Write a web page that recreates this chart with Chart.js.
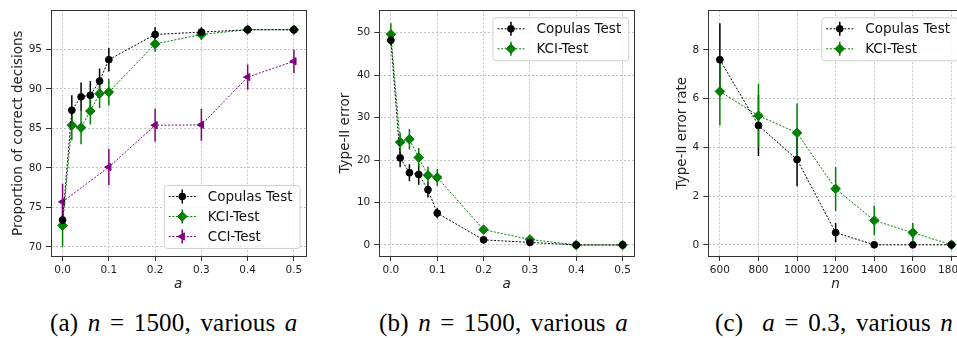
<!DOCTYPE html>
<html>
<head>
<meta charset="utf-8">
<script src="https://cdn.jsdelivr.net/npm/chart.js@4.4.0/dist/chart.umd.min.js"></script>
<style>
  body { margin: 0; background: #fff; }
  #page { position: relative; width: 957px; height: 338px; overflow: hidden; background: #fff; }
  canvas { position: absolute; top: 0; }
  .cap { position: absolute; top: 309px; line-height: 28px; font-family: "Liberation Serif", serif; font-size: 25px; letter-spacing: 0.2px; word-spacing: 3px; white-space: pre; color: #000; }
</style>
</head>
<body>
<div id="page">
  <canvas id="c1" width="320" height="300" style="left:0px"></canvas>
  <canvas id="c2" width="320" height="300" style="left:320px"></canvas>
  <canvas id="c3" width="340" height="300" style="left:640px"></canvas>
  <div class="cap" style="left:50px">(a) <i>n</i> = 1500, various <i>a</i></div>
  <div class="cap" style="left:379px">(b) <i>n</i> = 1500, various <i>a</i></div>
  <div class="cap" style="left:715px">(c)  <i>a</i> = 0.3, various <i>n</i></div>
</div>
<script>
  // valores
  const aVals = [0, 0.02, 0.04, 0.06, 0.08, 0.1, 0.2, 0.3, 0.4, 0.5];
  const aValsCCI = [0, 0.1, 0.2, 0.3, 0.4, 0.5];
  const nVals = [600, 800, 1000, 1200, 1400, 1600, 1800];

  const aTicks = [0, 0.1, 0.2, 0.3, 0.4, 0.5];
  const nTicks = [600, 800, 1000, 1200, 1400, 1600, 1800];
  const correctTicks = [70, 75, 80, 85, 90, 95];
  const errorTicks = [0, 10, 20, 30, 40, 50];
  const rateTicks = [0, 2, 4, 6, 8];

  // (a) proporção de decisões corretas
  const copulasCorrect = [73.4, 87.3, 89.0, 89.2, 91.0, 93.7, 96.9, 97.2, 97.5, 97.5];
  const copulasCorrectErr = [0.6, 1.9, 1.8, 1.8, 1.6, 1.5, 0.9, 0.6, 0.5, 0.5];
  const kciCorrect = [72.7, 85.4, 85.1, 87.2, 89.4, 89.6, 95.7, 96.9, 97.5, 97.5];
  const kciCorrectErr = [2.7, 1.9, 2.1, 1.7, 1.8, 1.7, 1.0, 0.7, 0.5, 0.5];
  const cciCorrect = [75.7, 80.1, 85.4, 85.45, 91.5, 93.5];
  const cciCorrectErr = [2.3, 2.3, 2.1, 2.0, 1.6, 1.5];

  // (b) erro tipo II
  const copulasType2 = [48.2, 20.5, 17.0, 16.6, 13.0, 7.5, 1.2, 0.6, 0, 0];
  const copulasType2Err = [1.2, 2.2, 2.0, 2.4, 1.8, 1.2, 0.4, 0.3, 0, 0];
  const kciType2 = [49.6, 24.2, 24.9, 20.6, 16.4, 15.9, 3.6, 1.3, 0, 0];
  const kciType2Err = [2.6, 2.3, 2.4, 2.2, 2.0, 2.0, 0.8, 0.5, 0, 0];

  // (c) taxa de erro tipo II
  const copulasRate = [7.6, 4.9, 3.5, 0.5, 0, 0, 0];
  const copulasRateErr = [1.5, 1.25, 1.1, 0.4, 0, 0, 0];
  const kciRate = [6.3, 5.3, 4.6, 2.3, 1.0, 0.5, 0];
  const kciRateErr = [1.4, 1.3, 1.2, 0.9, 0.6, 0.4, 0];

  const FAMILY = '"DejaVu Sans", sans-serif';
  const BLACK = '#000000', GREEN = '#008000', PURPLE = '#800080';

  function serie(label, xs, ys, errs, color, style, radius, rotation) {
    return {
      label: label,
      data: xs.map((x, i) => ({ x: x, y: ys[i] })),
      errors: errs,
      marker: style,
      borderColor: color,
      backgroundColor: color,
      borderWidth: 1,
      borderDash: [2, 1.6],
      pointStyle: style,
      pointRotation: rotation || 0,
      pointRadius: radius,
      pointBorderWidth: 1,
      pointBackgroundColor: color,
      pointBorderColor: color,
      tension: 0
    };
  }

  // barras de erro verticais, desenhadas pela escala y do próprio gráfico
  const errorBars = {
    id: 'errorBars',
    beforeDatasetsDraw(chart) {
      const ctx = chart.ctx;
      const yScale = chart.scales.y;
      const area = chart.chartArea;
      ctx.save();
      ctx.beginPath();
      ctx.rect(area.left, area.top, area.right - area.left, area.bottom - area.top);
      ctx.clip();
      chart.data.datasets.forEach((ds, di) => {
        const meta = chart.getDatasetMeta(di);
        ctx.strokeStyle = ds.borderColor;
        ctx.lineWidth = 1.5;
        meta.data.forEach((pt, i) => {
          const e = ds.errors[i];
          if (!e) return;
          const v = ds.data[i].y;
          ctx.beginPath();
          ctx.moveTo(pt.x, yScale.getPixelForValue(v - e));
          ctx.lineTo(pt.x, yScale.getPixelForValue(v + e));
          ctx.stroke();
        });
      });
      ctx.restore();
    }
  };

  function drawMarker(ctx, style, x, y, r) {
    ctx.beginPath();
    if (style === 'circle') {
      ctx.arc(x, y, r, 0, Math.PI * 2);
    } else if (style === 'rectRot') {
      ctx.moveTo(x, y - r); ctx.lineTo(x + r, y); ctx.lineTo(x, y + r); ctx.lineTo(x - r, y);
      ctx.closePath();
    } else {
      // triângulo apontando para a esquerda
      ctx.moveTo(x - r, y); ctx.lineTo(x + r * 0.5, y - r * 0.87); ctx.lineTo(x + r * 0.5, y + r * 0.87);
      ctx.closePath();
    }
    ctx.fill();
    ctx.stroke();
  }

  // moldura dos eixos + legenda no estilo matplotlib
  const frameLegend = {
    id: 'frameLegend',
    afterDraw(chart, args, opts) {
      const ctx = chart.ctx;
      const a = chart.chartArea;
      ctx.save();
      ctx.strokeStyle = '#333';
      ctx.lineWidth = 1;
      ctx.setLineDash([]);
      ctx.strokeRect(Math.round(a.left) + 0.5, Math.round(a.top) + 0.5, Math.round(a.right - a.left), Math.round(a.bottom - a.top));

      const ds = chart.data.datasets;
      ctx.font = '13.5px ' + FAMILY;
      const textW = Math.max(...ds.map(d => ctx.measureText(d.label).width));
      const rowH = 20;
      const boxW = 5 + 27 + 12 + textW + 7;
      const boxH = 23 + (ds.length - 1) * rowH;
      let bx = a.right - 6 - boxW;
      let by = opts.corner === 'lower right' ? a.bottom - 8 - boxH : a.top + 7;
      ctx.fillStyle = 'rgba(255,255,255,0.85)';
      ctx.strokeStyle = '#d0d0d0';
      ctx.beginPath();
      ctx.roundRect(bx + 0.5, by + 0.5, boxW, boxH, 3);
      ctx.fill();
      ctx.stroke();

      ds.forEach((d, i) => {
        const y = by + 11.5 + i * rowH;
        const x1 = bx + 5, x2 = bx + 32, xm = bx + 18.5;
        ctx.strokeStyle = d.borderColor;
        ctx.fillStyle = d.borderColor;
        ctx.lineWidth = 1;
        ctx.setLineDash([2, 1.6]);
        ctx.beginPath(); ctx.moveTo(x1, y); ctx.lineTo(x2, y); ctx.stroke();
        ctx.setLineDash([]);
        ctx.lineWidth = 1.5;
        ctx.beginPath(); ctx.moveTo(xm, y - 7); ctx.lineTo(xm, y + 7); ctx.stroke();
        ctx.lineWidth = 1;
        drawMarker(ctx, d.marker, xm, y, d.pointRadius);
        ctx.fillStyle = '#111';
        ctx.textBaseline = 'middle';
        ctx.textAlign = 'left';
        ctx.font = '13.5px ' + FAMILY;
        ctx.fillText(d.label, bx + 44, y + 0.5);
      });
      ctx.restore();
    }
  };

  function axisX(min, max, ticks, fmt, title) {
    return {
      type: 'linear', position: 'bottom', min: min, max: max,
      afterBuildTicks: s => { s.ticks = ticks.map(v => ({ value: v })); },
      afterFit: s => { s.height = 44; },
      ticks: { callback: v => fmt(v), font: { family: FAMILY, size: 10.5 }, color: '#222', padding: 3, autoSkip: false, maxRotation: 0 },
      grid: { color: '#b4b4b4', lineWidth: 0.8, tickLength: 5, tickColor: '#333', tickWidth: 1, tickBorderDash: [] },
      border: { display: true, color: '#333', dash: [2, 2] },
      title: { display: true, text: title, color: '#222', font: { family: FAMILY, size: 13.5, style: 'italic' }, padding: { top: 0, bottom: 7 } }
    };
  }

  function axisY(min, max, ticks, title, width, titlePad) {
    return {
      type: 'linear', position: 'left', min: min, max: max,
      afterBuildTicks: s => { s.ticks = ticks.map(v => ({ value: v })); },
      afterFit: s => { s.width = width; },
      ticks: { font: { family: FAMILY, size: 10.5 }, color: '#222', padding: 4 },
      grid: { color: '#b4b4b4', lineWidth: 0.8, tickLength: 5, tickColor: '#333', tickWidth: 1, tickBorderDash: [] },
      border: { display: true, color: '#333', dash: [2, 2] },
      title: { display: true, text: title, color: '#222', font: { family: FAMILY, size: 13.5 }, padding: { top: titlePad, bottom: 0 } }
    };
  }

  function makeChart(id, datasets, xAxis, yAxis, padRight, corner) {
    return new Chart(document.getElementById(id), {
      type: 'line',
      data: { datasets: datasets },
      options: {
        responsive: false,
        animation: false,
        layout: { padding: { left: 0, top: 7, right: padRight, bottom: 0 } },
        scales: { x: xAxis, y: yAxis },
        plugins: {
          legend: { display: false },
          tooltip: { enabled: false },
          frameLegend: { corner: corner }
        }
      },
      plugins: [errorBars, frameLegend]
    });
  }

  const fmt1 = v => v.toFixed(1);

  makeChart('c1', [
    serie('Copulas Test', aVals, copulasCorrect, copulasCorrectErr, BLACK, 'circle', 3.4),
    serie('KCI-Test', aVals, kciCorrect, kciCorrectErr, GREEN, 'rectRot', 4.8),
    serie('CCI-Test', aValsCCI, cciCorrect, cciCorrectErr, PURPLE, 'triangle', 4.2, 270)
  ], axisX(-0.025, 0.525, aTicks, fmt1, 'a'),
     axisY(68.84, 99.96, correctTicks, 'Proportion of correct decisions', 51, 10), 14.5, 'lower right');

  makeChart('c2', [
    serie('Copulas Test', aVals, copulasType2, copulasType2Err, BLACK, 'circle', 3.4),
    serie('KCI-Test', aVals, kciType2, kciType2Err, GREEN, 'rectRot', 4.8)
  ], axisX(-0.025, 0.525, aTicks, fmt1, 'a'),
     axisY(-2.6, 55.25, errorTicks, 'Type-II error', 59.3, 17.7), 5.7, 'upper right');

  makeChart('c3', [
    serie('Copulas Test', nVals, copulasRate, copulasRateErr, BLACK, 'circle', 3.4),
    serie('KCI-Test', nVals, kciRate, kciRateErr, GREEN, 'rectRot', 4.8)
  ], axisX(540, 1860, nTicks, v => String(v), 'n'),
     axisY(-0.46, 9.63, rateTicks, 'Type-II error rate', 68.3, 34.4), 17, 'upper right');
</script>
</body>
</html>
